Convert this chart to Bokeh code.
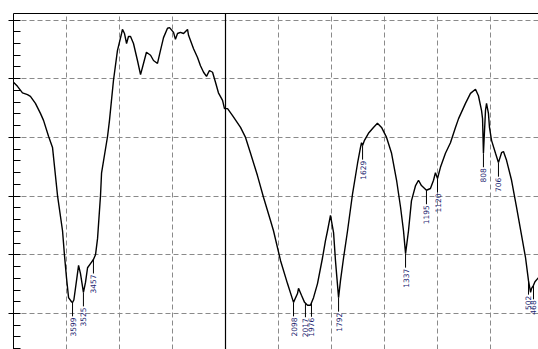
import numpy as np
from bokeh.plotting import figure
from bokeh.models import (Range1d, FixedTicker, LinearAxis, Span, ColumnDataSource,
                          CustomJSTickFormatter)
from bokeh.embed import file_html
from bokeh.resources import INLINE
from bokeh.core.properties import value

# IR transmission spectrum: wavenumber (cm-1) and transmittance (%T)
wavenumber = [
    4000, 3973, 3939, 3905, 3885, 3851, 3817, 3796, 3762, 3735, 3701, 3667, 3654,
    3640, 3626, 3606, 3599, 3590, 3572, 3558, 3545, 3525, 3511, 3497, 3477, 3457,
    3443, 3429, 3409, 3402, 3361, 3348, 3321, 3294, 3266, 3260, 3246, 3232, 3219,
    3205, 3185, 3158, 3137, 3117, 3097, 3069, 3049, 3022, 3002, 2981, 2954, 2940,
    2913, 2900, 2886, 2866, 2845, 2818, 2811, 2777, 2750, 2730, 2709, 2689, 2669,
    2648, 2628, 2608, 2580, 2567, 2546, 2512, 2458, 2424, 2390, 2343, 2302, 2254,
    2234, 2186, 2139, 2098, 2071, 2064, 2044, 2023, 2003, 1983, 1962, 1935, 1901,
    1881, 1867, 1847, 1826, 1813, 1792, 1779, 1758, 1731, 1697, 1663, 1643, 1636,
    1629, 1616, 1589, 1555, 1528, 1500, 1466, 1432, 1398, 1371, 1351, 1337, 1317,
    1297, 1269, 1249, 1229, 1195, 1168, 1147, 1134, 1120, 1100, 1066, 1032, 998,
    977, 930, 896, 862, 842, 821, 814, 808, 794, 787, 774, 767, 753, 726, 706,
    685, 672, 651, 617, 583, 549, 522, 502, 488, 481, 468, 458, 434,
]
transmittance = [
    49.4, 48.7, 47.6, 47.3, 47.0, 45.8, 44.1, 42.9, 40.2, 38.3, 30.1, 24.1, 20.0,
    16.1, 12.7, 12.0, 11.9, 12.3, 15.6, 18.2, 16.8, 13.6, 15.3, 17.8, 18.5, 19.2,
    20.0, 22.8, 30.1, 33.9, 40.2, 42.9, 49.7, 54.8, 57.7, 58.4, 57.7, 56.0, 57.2,
    57.2, 56.0, 53.1, 50.7, 52.6, 54.5, 54.0, 53.1, 52.6, 54.8, 57.0, 58.6, 58.7,
    57.9, 56.7, 57.7, 57.9, 57.7, 58.4, 57.4, 55.1, 53.6, 52.2, 51.1, 50.4, 51.4,
    51.1, 49.4, 47.6, 46.3, 44.9, 44.9, 43.7, 41.7, 40.0, 37.3, 33.5, 29.8, 25.8,
    24.1, 19.0, 15.1, 11.9, 13.4, 14.3, 13.1, 11.9, 11.4, 11.4, 12.7, 15.1, 19.5,
    22.4, 24.1, 26.7, 23.8, 19.0, 12.7, 15.6, 19.5, 24.1, 30.4, 35.6, 38.3, 39.1,
    38.6, 39.5, 40.7, 41.7, 42.4, 41.7, 40.0, 37.3, 32.7, 28.1, 24.1, 20.2, 24.1,
    29.2, 31.8, 32.7, 31.8, 31.0, 31.3, 32.7, 34.0, 33.0, 34.9, 37.3, 39.1, 41.7,
    43.2, 45.8, 47.5, 48.2, 47.1, 44.6, 43.2, 37.3, 44.6, 45.8, 44.1, 41.7, 39.5,
    37.3, 35.7, 37.4, 37.6, 36.1, 32.7, 28.1, 23.3, 19.5, 15.6, 13.6, 14.3, 14.8,
    15.4, 16.1,
]

# Picked absorption peaks (cm-1)
peak_wn = [3599, 3525, 3457, 2098, 2017, 1976, 1792, 1629, 1337, 1195, 1120, 808, 706, 502, 468]

# Grid positions
x_grid = [3640, 3280, 2920, 2560, 2200, 1840, 1480, 1120, 760]
y_ticks = [10, 20, 30, 40, 50, 60]
y_minor = [4, 6, 8, 12, 14, 16, 18, 22, 24, 26, 28, 32, 34, 36, 38, 42, 44, 46, 48,
           52, 54, 56, 58]
divider_wn = 2560

wn = np.array(wavenumber, dtype=float)
tr = np.array(transmittance, dtype=float)
pk = np.array(peak_wn, dtype=float)
pk_t = np.interp(pk, wn[::-1], tr[::-1])

y_lo, y_hi = 3.87, 61.11
p = figure(width=538, height=349, output_backend="svg", toolbar_location=None,
           x_range=Range1d(4000, 434), y_range=Range1d(y_lo, y_hi),
           x_axis_location=None, y_axis_location="left",
           min_border_left=13, min_border_top=13, min_border_right=0,
           min_border_bottom=0)
p.outline_line_color = None
p.background_fill_color = "white"
p.border_fill_color = "white"

# left axis: tick marks only
ya = p.yaxis[0]
ya.ticker = FixedTicker(ticks=y_ticks, minor_ticks=y_minor)
ya.formatter = CustomJSTickFormatter(code="return ''")
ya.major_label_standoff = 0
ya.major_tick_in = 7
ya.major_tick_out = 5
ya.minor_tick_in = 7
ya.minor_tick_out = 0
ya.axis_line_color = "black"
ya.major_tick_line_color = "black"
ya.minor_tick_line_color = "black"

# top frame line
top = LinearAxis(ticker=FixedTicker(ticks=[]),
                 formatter=CustomJSTickFormatter(code="return ''"),
                 major_tick_out=0, major_tick_in=0, minor_tick_out=0, minor_tick_in=0,
                 axis_line_color="black")
p.add_layout(top, "above")

for g in (p.xgrid[0], p.ygrid[0]):
    g.grid_line_color = "#8a8a8a"
    g.grid_line_dash = "5 3"
    g.grid_line_width = 1
p.xgrid[0].ticker = FixedTicker(ticks=x_grid)
p.ygrid[0].ticker = FixedTicker(ticks=y_ticks)

p.add_layout(Span(location=divider_wn, dimension="height", line_color="black",
                  line_width=1.2))

p.line(wn, tr, line_color="black", line_width=1.4)

# peak markers: short drop line below each peak, then its wavenumber
tick_len = 14 / (336.0 / (y_hi - y_lo))
src = ColumnDataSource(dict(x=pk, y0=pk_t, y1=pk_t - tick_len,
                            txt=[str(int(v)) for v in peak_wn]))
p.segment(x0="x", y0="y0", x1="x", y1="y1", source=src, line_color="black",
          line_width=1)
p.text(x="x", y="y1", text="txt", source=src, angle=np.pi / 2,
       text_align="right", text_baseline="middle", y_offset=1,
       text_font=value("DejaVu Sans"), text_font_size="7.5px",
       text_color="#1c2470")

open("out.html", "w").write(file_html(p, INLINE))
